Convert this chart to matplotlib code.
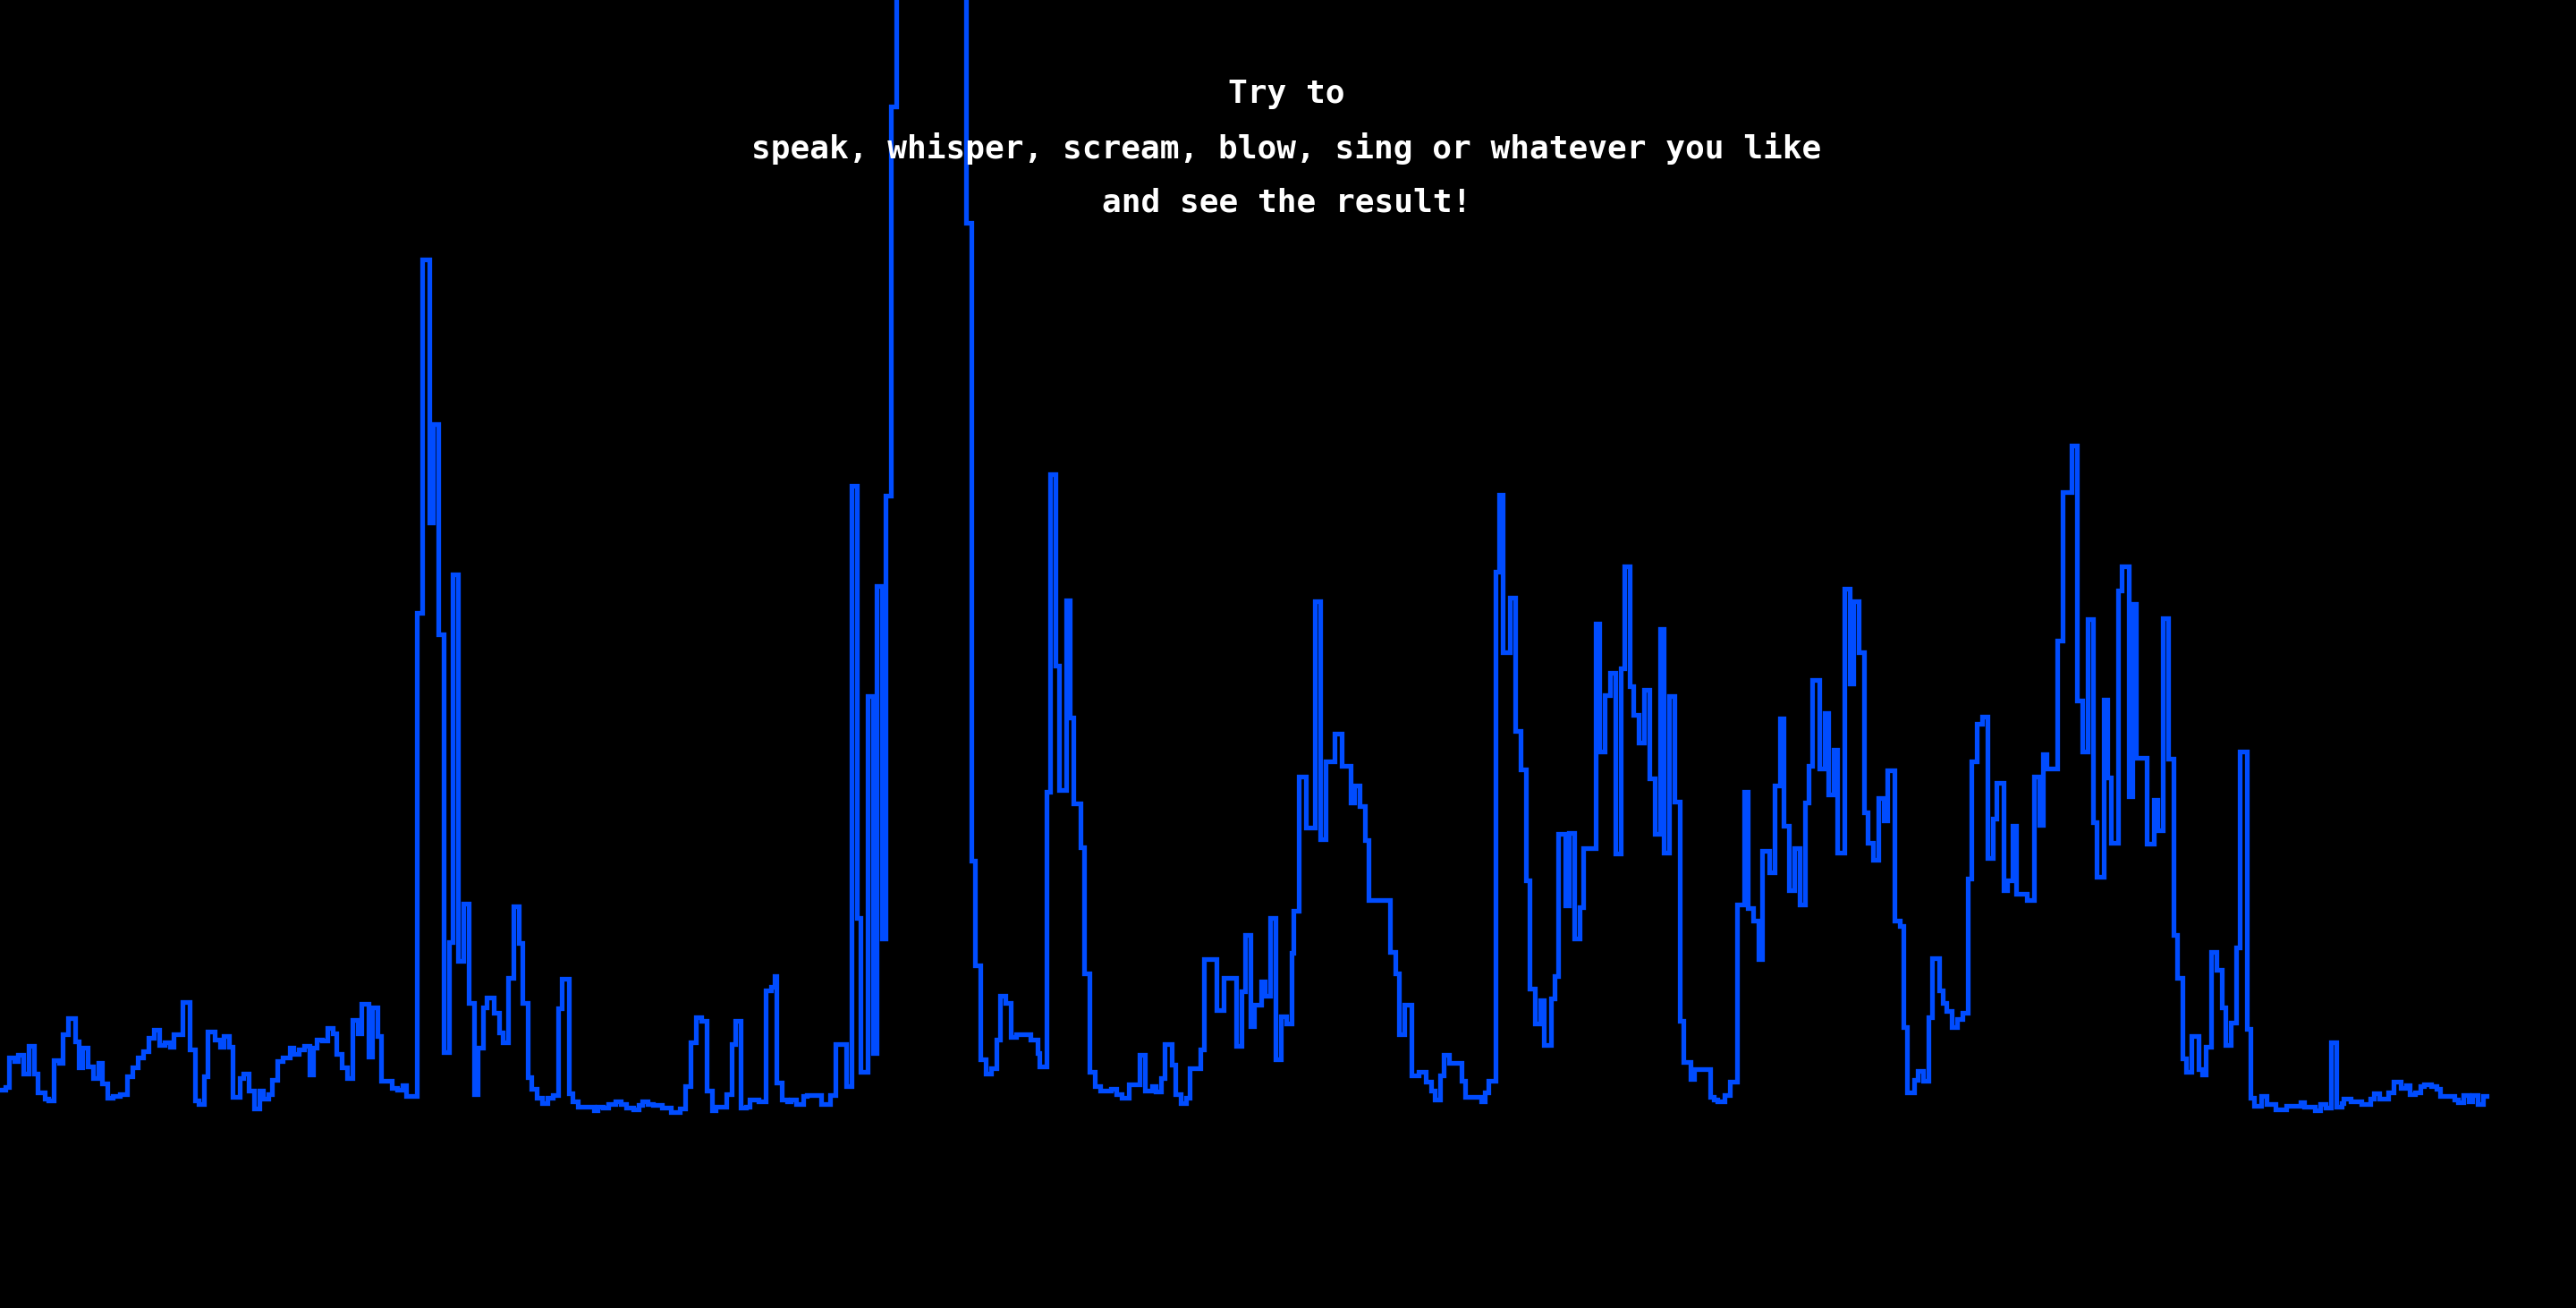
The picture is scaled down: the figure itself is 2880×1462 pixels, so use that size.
import matplotlib
matplotlib.use("Agg")
import matplotlib.pyplot as plt

# frame index (start of each held level) and input level
t_frames = [
    0, 3, 5, 8, 10, 13, 16, 19, 21, 25, 27, 30, 33, 35, 38, 42, 44, 46, 49, 52,
    55, 57, 60, 63, 67, 71, 74, 77, 80, 83, 86, 89, 92, 95, 97, 102, 106, 109, 111, 114,
    116, 120, 123, 125, 128, 130, 134, 136, 139, 142, 145, 147, 150, 152, 155, 158, 162, 164, 167, 170,
    173, 175, 177, 180, 183, 186, 188, 191, 194, 197, 200, 202, 206, 208, 211, 213, 219, 222, 225, 227,
    233, 236, 240, 242, 245, 248, 251, 253, 256, 259, 262, 265, 267, 270, 272, 276, 279, 281, 284, 287,
    290, 292, 295, 297, 300, 303, 306, 309, 312, 314, 318, 320, 323, 332, 334, 337, 340, 344, 347, 350,
    354, 357, 359, 362, 365, 370, 375, 380, 383, 386, 389, 392, 395, 398, 400, 406, 409, 411, 414, 417,
    419, 424, 428, 431, 433, 434, 437, 440, 442, 445, 449, 451, 459, 464, 467, 473, 476, 479, 481, 485,
    488, 490, 493, 495, 498, 501, 515, 530, 540, 543, 545, 548, 551, 554, 557, 559, 562, 565, 568, 576,
    580, 581, 585, 587, 590, 592, 596, 598, 600, 604, 606, 609, 612, 615, 621, 624, 627, 631, 637, 640,
    644, 646, 649, 651, 655, 657, 660, 663, 665, 671, 673, 680, 684, 691, 694, 696, 699, 701, 705, 707,
    710, 713, 716, 719, 722, 723, 726, 730, 735, 738, 741, 746, 750, 755, 757, 760, 763, 765, 777, 780,
    782, 785, 789, 793, 797, 800, 802, 805, 807, 810, 817, 819, 828, 830, 832, 836, 838, 840, 844, 847,
    850, 853, 855, 858, 861, 863, 867, 869, 871, 875, 877, 880, 883, 885, 892, 894, 897, 900, 903, 906,
    908, 911, 913, 916, 919, 922, 925, 928, 930, 933, 936, 939, 941, 945, 947, 956, 958, 960, 964, 967,
    971, 975, 977, 980, 983, 985, 989, 992, 995, 997, 1000, 1003, 1006, 1009, 1011, 1013, 1017, 1020, 1022, 1025,
    1027, 1031, 1034, 1036, 1039, 1042, 1044, 1047, 1050, 1053, 1055, 1059, 1062, 1064, 1066, 1070, 1072, 1075, 1078, 1080,
    1084, 1086, 1088, 1091, 1094, 1097, 1100, 1102, 1105, 1108, 1111, 1114, 1116, 1120, 1122, 1125, 1127, 1133, 1137, 1140,
    1142, 1144, 1150, 1153, 1158, 1161, 1164, 1167, 1170, 1172, 1176, 1178, 1180, 1184, 1186, 1190, 1192, 1194, 1200, 1204,
    1206, 1209, 1212, 1215, 1217, 1220, 1222, 1225, 1229, 1231, 1233, 1236, 1239, 1242, 1244, 1247, 1250, 1252, 1256, 1258,
    1260, 1264, 1267, 1272, 1278, 1286, 1288, 1294, 1297, 1300, 1303, 1306, 1309, 1310, 1314, 1320, 1325, 1327, 1330, 1335,
    1338, 1342, 1345, 1347, 1350, 1353, 1355, 1359, 1362, 1364, 1372, 1374, 1377, 1380, 1382, 1385, 1388, 1390,
]
level = [
    4.2, 4.5, 7.8, 7.4, 8.1, 6.0, 9.1, 6.0, 3.9, 3.2, 3.0, 7.5, 7.2, 10.4, 12.2, 9.6, 6.7, 8.9, 6.8, 5.5,
    7.2, 4.9, 3.3, 3.5, 3.7, 5.7, 6.7, 7.8, 8.5, 10.0, 10.9, 9.2, 9.5, 9.0, 10.4, 14.0, 8.7, 3.0, 2.6, 5.7,
    10.7, 9.8, 9.0, 10.2, 9.0, 3.4, 5.5, 6.0, 4.1, 2.1, 4.1, 3.2, 3.7, 5.3, 7.4, 7.8, 8.9, 8.2, 8.7, 9.1,
    5.9, 8.9, 9.8, 9.7, 11.1, 10.5, 8.2, 6.7, 5.5, 12.0, 10.5, 13.8, 7.9, 13.4, 10.2, 5.2, 4.4, 4.2, 4.7, 3.5,
    57.5, 97.0, 67.6, 78.6, 55.1, 8.4, 20.7, 61.8, 18.6, 25.0, 13.9, 3.7, 8.9, 13.4, 14.5, 12.8, 10.6, 9.5, 16.7, 24.7,
    20.6, 13.9, 5.6, 4.3, 3.3, 2.7, 3.3, 3.6, 13.3, 16.6, 3.8, 2.9, 2.3, 1.9, 2.3, 2.2, 2.6, 2.9, 2.6, 2.2,
    2.0, 2.5, 2.9, 2.6, 2.5, 2.2, 1.7, 2.1, 4.6, 9.5, 12.3, 11.9, 4.1, 1.9, 2.3, 3.7, 9.3, 11.9, 2.2, 2.3,
    3.1, 2.9, 15.3, 15.7, 16.9, 5.0, 3.1, 2.9, 3.1, 2.6, 3.5, 3.6, 2.6, 3.6, 9.3, 4.6, 71.7, 23.4, 6.2, 48.2,
    8.3, 60.5, 21.1, 70.6, 114.1, 160.0, 200.0, 170.0, 101.1, 29.8, 18.1, 7.6, 6.0, 6.6, 9.8, 14.7, 13.9, 10.1, 10.4, 9.8,
    8.3, 6.8, 37.5, 73.0, 51.6, 37.7, 58.9, 45.8, 36.2, 31.3, 17.2, 6.2, 4.6, 4.1, 4.3, 3.7, 3.3, 4.8, 8.1, 4.1,
    4.6, 4.0, 5.5, 9.3, 7.0, 3.7, 2.7, 3.3, 6.6, 8.7, 18.8, 13.1, 16.7, 9.1, 15.2, 21.5, 11.3, 13.7, 16.3, 14.7,
    23.4, 7.6, 12.4, 11.6, 19.5, 24.2, 39.2, 33.5, 58.8, 32.2, 40.9, 44.0, 40.4, 36.3, 38.2, 35.9, 32.1, 25.4, 19.6, 17.2,
    10.4, 13.7, 5.8, 6.2, 5.1, 4.1, 3.1, 5.8, 8.1, 7.2, 5.2, 3.4, 2.9, 3.9, 5.2, 62.1, 70.7, 53.1, 59.2, 44.3,
    40.0, 27.6, 15.5, 11.6, 14.2, 9.2, 14.4, 16.9, 32.8, 24.8, 32.9, 21.1, 24.6, 31.2, 56.3, 42.0, 48.3, 50.8, 30.6, 51.3,
    62.7, 49.3, 46.1, 43.0, 48.9, 39.0, 32.8, 55.7, 30.7, 48.2, 36.4, 11.9, 7.3, 5.4, 6.5, 3.4, 3.1, 2.9, 3.6, 5.1,
    24.9, 37.5, 24.5, 23.1, 18.8, 30.9, 28.5, 38.2, 45.7, 33.7, 26.5, 31.2, 24.9, 36.3, 40.4, 50.0, 40.1, 46.3, 37.2, 42.2,
    30.7, 60.2, 49.6, 58.8, 53.1, 35.2, 31.8, 29.9, 36.8, 34.3, 39.9, 23.1, 22.5, 11.2, 3.9, 5.3, 6.3, 5.2, 12.3, 18.9,
    15.3, 13.9, 13.0, 11.2, 12.1, 12.8, 27.8, 40.9, 45.1, 45.9, 30.1, 34.5, 38.5, 26.5, 27.6, 33.7, 26.1, 25.4, 39.2, 33.8,
    41.7, 40.1, 54.4, 71.0, 76.2, 47.7, 42.0, 56.8, 34.1, 28.0, 47.8, 39.1, 31.8, 60.0, 62.7, 37.0, 58.5, 41.3, 31.7, 36.6,
    33.2, 56.9, 41.2, 21.5, 16.7, 7.7, 6.2, 10.2, 6.5, 5.9, 9.0, 19.6, 17.6, 13.4, 9.2, 11.7, 20.1, 42.0, 11.0, 3.3,
    2.4, 3.5, 2.6, 2.0, 2.4, 2.8, 2.3, 1.9, 2.6, 2.2, 9.5, 2.3, 2.7, 3.2, 2.9, 2.6, 3.2, 3.8, 3.2, 3.9,
    5.1, 4.4, 4.7, 3.7, 3.9, 4.6, 4.8, 4.6, 4.3, 3.5, 3.1, 2.8, 3.6, 2.9, 3.6, 2.6, 3.5, 3.5,
]

message = ["Try to",
           "speak, whisper, scream, blow, sing or whatever you like",
           "and see the result!"]

fig = plt.figure(figsize=(14.4, 7.31), dpi=200, facecolor='black')
ax = fig.add_axes([0, 0, 1, 1])
ax.set_facecolor('black')

ax.plot(t_frames, level, drawstyle='steps-post', color='#004cff',
        linewidth=1.9, solid_joinstyle='miter')

ax.set_xlim(0, 1440)
ax.set_ylim(-20.2, 126)
ax.axis('off')

# centred instructions on top
for i, line in enumerate(message):
    fig.text(0.4995, 0.928 - i * 0.0415, line, ha='center', va='center',
             color='white', fontsize=13, fontweight='bold',
             family='DejaVu Sans Mono')

fig.savefig('out.png', dpi=200, facecolor='black')
